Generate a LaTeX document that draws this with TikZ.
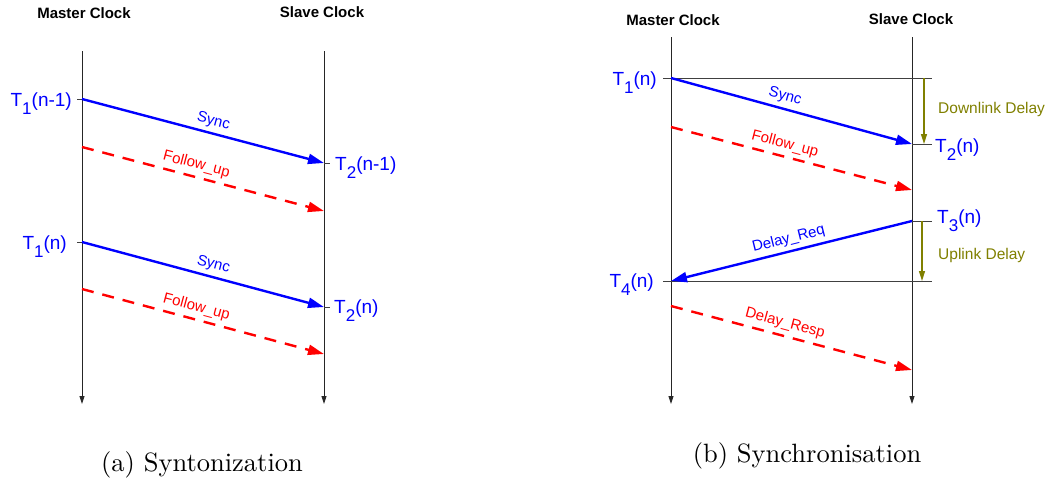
\documentclass[tikz,border=0pt]{standalone}
\usepackage{fontspec}
\newfontfamily\arial{Liberation Sans}
\newfontfamily\lmten{lmroman10-regular.otf}
\usetikzlibrary{arrows.meta}
\definecolor{sblue}{RGB}{0,0,255}
\definecolor{sred}{RGB}{255,0,0}
\definecolor{dolive}{RGB}{128,128,0}
\newcommand{\Tlab}[2]{T\raisebox{-8pt}{\fontsize{17}{17}\selectfont #1}(#2)}
\tikzset{
  lifeline/.style={draw=black!85, line width=0.9pt, -{Triangle[length=8pt,width=5pt]}},
  msg/.style={draw=sblue, line width=2.4pt, -{Triangle[length=16pt,width=10pt]}},
  fup/.style={draw=sred, line width=2.4pt, dash pattern=on 12pt off 9pt, -{Triangle[length=16pt,width=10pt]}},
  refline/.style={draw=black!75, line width=0.8pt},
  delay/.style={draw=dolive, line width=1.2pt, -{Triangle[length=10pt,width=6pt]}},
  tlab/.style={font=\arial\fontsize{19}{19}\selectfont, text=sblue, inner sep=0pt},
  mlab/.style={font=\arial\fontsize{15}{15}\selectfont, inner sep=0pt, sloped, above=4pt},
  dlab/.style={font=\arial\fontsize{15.5}{15.5}\selectfont, text=dolive, inner sep=0pt, anchor=west},
  hdr/.style={font=\arial\bfseries\fontsize{15}{15}\selectfont, inner sep=0pt},
  captxt/.style={font=\lmten\fontsize{26.5}{26.5}\selectfont, inner sep=0pt}
}
\begin{document}
\begin{tikzpicture}[x=1pt,y=-1pt]
\useasboundingbox (0,0) rectangle (1056,482);
% ---------- (a) ----------
\node[hdr] (mca) at (84,13) {Master Clock};
\node[hdr] (sca) at (322,12) {Slave Clock};
\coordinate (ma0) at (82,51);  \coordinate (ma1) at (82,404);
\coordinate (sa0) at (324,51); \coordinate (sa1) at (324,404);
\draw[lifeline] (ma0) -- (ma1);
\draw[lifeline] (sa0) -- (sa1);
% round n-1
\coordinate (a1) at (82,99);   \coordinate (a1t) at (77,99);
\coordinate (a2) at (324,163); \coordinate (a2t) at (330,163);
\coordinate (a3) at (82,147);  \coordinate (a4) at (324,211);
\draw[refline] (a1t) -- (a1);
\draw[refline] (a2) -- (a2t);
\node[tlab, anchor=base east] (t1a) at (72,106) {\Tlab{1}{n-1}};
\node[tlab, anchor=base west] (t2a) at (335,170) {\Tlab{2}{n-1}};
\draw[msg] (a1) -- node[mlab, pos=0.53, text=sblue] (synca) {Sync} (a2);
\draw[fup] (a3) -- node[mlab, pos=0.46, text=sred] (fupa) {Follow\_up} (a4);
% round n
\coordinate (b1) at (82,242);  \coordinate (b1t) at (77,242);
\coordinate (b2) at (324,307); \coordinate (b2t) at (330,307);
\coordinate (b3) at (82,289);  \coordinate (b4) at (324,354);
\draw[refline] (b1t) -- (b1);
\draw[refline] (b2) -- (b2t);
\node[tlab, anchor=base east] (t1b) at (67,249) {\Tlab{1}{n}};
\node[tlab, anchor=base west] (t2b) at (334,313) {\Tlab{2}{n}};
\draw[msg] (b1) -- node[mlab, pos=0.53, text=sblue] (syncb) {Sync} (b2);
\draw[fup] (b3) -- node[mlab, pos=0.46, text=sred] (fupb) {Follow\_up} (b4);
\node[captxt] (capa) at (202,465) {(a) Syntonization};
% ---------- (b) ----------
\node[hdr] (mcb) at (673,20) {Master Clock};
\node[hdr] (scb) at (911,19) {Slave Clock};
\coordinate (mb0) at (671,37);  \coordinate (mb1) at (671,404);
\coordinate (sb0) at (912,37);  \coordinate (sb1) at (912,404);
\draw[lifeline] (mb0) -- (mb1);
\draw[lifeline] (sb0) -- (sb1);
\coordinate (c1) at (671,78);  \coordinate (c1l) at (663,78); \coordinate (c1r) at (932,78);
\coordinate (c2) at (912,144); \coordinate (c2r) at (932,144);
\coordinate (c3) at (671,127); \coordinate (c4) at (912,190);
\coordinate (c5) at (912,221); \coordinate (c5r) at (932,221);
\coordinate (c6) at (671,281); \coordinate (c6l) at (663,281); \coordinate (c6r) at (932,281);
\coordinate (c7) at (671,306); \coordinate (c8) at (912,370);
\draw[refline] (c1l) -- (c1r);
\draw[refline] (c2) -- (c2r);
\draw[refline] (c5) -- (c5r);
\draw[refline] (c6l) -- (c6r);
\coordinate (dd0) at (924,78);  \coordinate (dd1) at (924,144);
\coordinate (ud0) at (922,221); \coordinate (ud1) at (922,281);
\draw[delay] (dd0) -- (dd1);
\draw[delay] (ud0) -- (ud1);
\node[dlab] (dl) at (938,109) {Downlink Delay};
\node[dlab] (ul) at (938,255) {Uplink Delay};
\node[tlab, anchor=base east] (t1c) at (657,85) {\Tlab{1}{n}};
\node[tlab, anchor=base west] (t2c) at (935,152) {\Tlab{2}{n}};
\node[tlab, anchor=base west] (t3c) at (937,223) {\Tlab{3}{n}};
\node[tlab, anchor=base east] (t4c) at (654,287) {\Tlab{4}{n}};
\draw[msg] (c1) -- node[mlab, pos=0.46, text=sblue] (syncc) {Sync} (c2);
\draw[fup] (c3) -- node[mlab, pos=0.46, text=sred] (fupc) {Follow\_up} (c4);
\draw[msg] (c5) -- node[mlab, pos=0.5, text=sblue] (dreq) {Delay\_Req} (c6);
\draw[fup] (c7) -- node[mlab, pos=0.46, text=sred] (dresp) {Delay\_Resp} (c8);
\node[captxt] (capb) at (807,456) {(b) Synchronisation};
\end{tikzpicture}
\end{document}
